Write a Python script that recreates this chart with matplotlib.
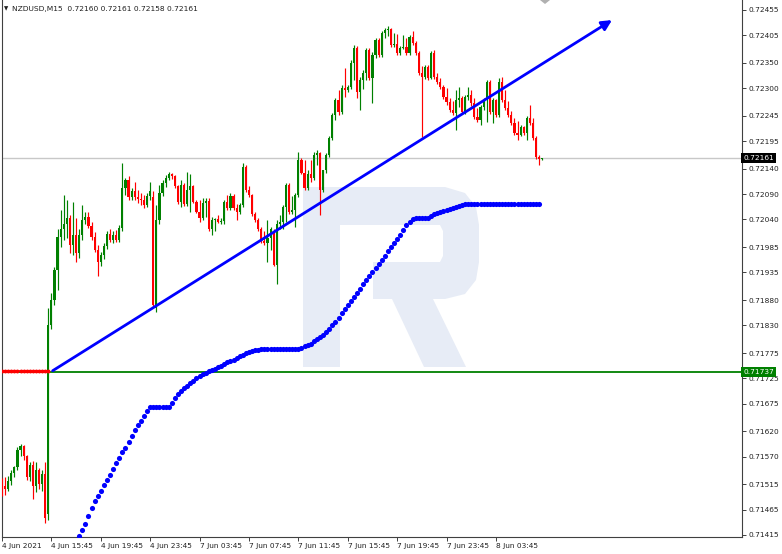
import matplotlib
matplotlib.use('Agg')
import matplotlib.pyplot as plt
from matplotlib.patches import Polygon, Rectangle
from matplotlib.transforms import Affine2D, blended_transform_factory
import numpy as np

# ---------------- data (prices in 1e-5 units) ----------------
opens = [71521, 71511, 71505, 71521, 71538, 71550, 71582, 71590, 71572, 71529, 71554, 71511, 71544, 71515, 71535, 71457,
         71830, 71881, 71940, 72006, 72020, 72030, 72043, 71990, 72010, 71974, 72010, 72039, 72045, 72026, 72006, 71980,
         71956, 71970, 71988, 72012, 72000, 72010, 72000, 72022, 72103, 72119, 72085, 72097, 72085, 72081, 72079, 72069,
         72087, 72085, 71865, 72039, 72093, 72113, 72123, 72129, 72125, 72107, 72075, 72109, 72071, 72099, 72107, 72075,
         72055, 72043, 72073, 72077, 72020, 72039, 72041, 72035, 72037, 72075, 72063, 72087, 72063, 72055, 72069, 72144,
         72099, 72089, 72051, 72039, 72020, 71998, 71994, 72004, 72016, 71950, 72030, 72035, 72065, 72109, 72055, 72059,
         72089, 72158, 72132, 72103, 72129, 72123, 72168, 72172, 72099, 72138, 72168, 72202, 72247, 72277, 72253, 72301,
         72297, 72303, 72350, 72380, 72293, 72317, 72330, 72376, 72321, 72366, 72396, 72366, 72410, 72416, 72418, 72386,
         72388, 72370, 72380, 72382, 72370, 72402, 72390, 72370, 72330, 72323, 72342, 72321, 72370, 72323, 72313, 72303,
         72283, 72273, 72257, 72251, 72277, 72281, 72253, 72283, 72287, 72271, 72243, 72237, 72263, 72277, 72313, 72253,
         72277, 72247, 72313, 72277, 72261, 72247, 72231, 72212, 72208, 72224, 72212, 72241, 72231, 72202, 72164, 72160]
highs = [71527, 71529, 71531, 71544, 71552, 71588, 71594, 71592, 71574, 71560, 71562, 71560, 71548, 71544, 71560, 71865,
         71895, 71946, 72020, 72059, 72089, 72079, 72049, 72075, 72043, 72020, 72069, 72055, 72055, 72035, 72014, 71990,
         71976, 71994, 72016, 72020, 72016, 72018, 72028, 72152, 72123, 72125, 72103, 72115, 72099, 72093, 72089, 72093,
         72115, 72097, 72069, 72109, 72119, 72127, 72134, 72132, 72127, 72109, 72119, 72113, 72134, 72129, 72109, 72079,
         72079, 72083, 72083, 72083, 72045, 72043, 72049, 72043, 72079, 72089, 72093, 72091, 72071, 72073, 72152, 72148,
         72107, 72091, 72055, 72043, 72024, 72016, 72039, 72024, 72020, 72039, 72049, 72069, 72113, 72113, 72087, 72093,
         72174, 72162, 72158, 72138, 72158, 72174, 72178, 72174, 72138, 72172, 72206, 72251, 72281, 72297, 72307, 72340,
         72307, 72356, 72386, 72384, 72323, 72336, 72380, 72380, 72372, 72400, 72400, 72414, 72420, 72424, 72420, 72410,
         72408, 72384, 72406, 72400, 72406, 72414, 72394, 72374, 72344, 72346, 72346, 72374, 72376, 72330, 72321, 72307,
         72301, 72281, 72275, 72297, 72303, 72285, 72287, 72303, 72297, 72281, 72261, 72267, 72281, 72317, 72317, 72281,
         72279, 72321, 72323, 72297, 72275, 72255, 72241, 72235, 72227, 72226, 72245, 72267, 72241, 72206, 72168, 72161]
lows = [71491, 71493, 71501, 71513, 71529, 71544, 71572, 71564, 71523, 71521, 71485, 71499, 71505, 71501, 71439, 71445,
        71822, 71871, 71901, 71986, 72000, 72004, 71974, 71970, 71956, 71964, 72000, 72031, 72022, 72000, 71976, 71927,
        71948, 71962, 71982, 71996, 71994, 71996, 71996, 72016, 72089, 72079, 72079, 72079, 72073, 72069, 72063, 72065,
        72079, 71867, 71857, 72030, 72087, 72105, 72119, 72121, 72103, 72071, 72065, 72067, 72067, 72055, 72073, 72053,
        72035, 72039, 72045, 72016, 72010, 72016, 72033, 72031, 72030, 72059, 72059, 72059, 72039, 72051, 72065, 72095,
        72085, 72047, 72035, 72016, 71994, 71990, 71956, 71980, 71948, 71911, 72020, 72020, 72035, 72051, 72051, 72025,
        72085, 72129, 72099, 72099, 72115, 72119, 72148, 72049, 72095, 72132, 72164, 72198, 72237, 72247, 72249, 72283,
        72293, 72299, 72317, 72281, 72257, 72299, 72317, 72317, 72271, 72360, 72362, 72362, 72400, 72404, 72382, 72382,
        72366, 72366, 72378, 72366, 72366, 72386, 72366, 72326, 72204, 72319, 72317, 72319, 72319, 72309, 72299, 72279,
        72267, 72253, 72247, 72218, 72263, 72249, 72249, 72277, 72265, 72239, 72233, 72227, 72257, 72233, 72249, 72231,
        72243, 72243, 72273, 72257, 72243, 72227, 72208, 72198, 72206, 72208, 72198, 72227, 72198, 72160, 72148, 72158]
closes = [71511, 71505, 71521, 71538, 71550, 71582, 71590, 71572, 71529, 71554, 71511, 71544, 71515, 71535, 71449, 71830,
          71881, 71940, 72006, 72020, 72030, 72043, 71990, 72010, 71974, 72010, 72039, 72045, 72026, 72006, 71980, 71956,
          71970, 71988, 72012, 72000, 72010, 72000, 72022, 72103, 72119, 72085, 72097, 72085, 72081, 72079, 72069, 72087,
          72097, 71871, 72039, 72093, 72113, 72123, 72129, 72125, 72107, 72075, 72109, 72071, 72099, 72107, 72075, 72055,
          72043, 72073, 72077, 72020, 72039, 72041, 72035, 72037, 72075, 72063, 72087, 72063, 72055, 72069, 72144, 72099,
          72089, 72051, 72039, 72020, 71998, 71994, 72004, 72020, 71950, 72030, 72035, 72065, 72109, 72055, 72059, 72089,
          72158, 72132, 72103, 72129, 72123, 72168, 72172, 72099, 72138, 72168, 72202, 72247, 72277, 72253, 72301, 72297,
          72303, 72350, 72380, 72293, 72317, 72330, 72376, 72321, 72366, 72396, 72366, 72410, 72416, 72418, 72386, 72388,
          72370, 72380, 72382, 72370, 72402, 72390, 72370, 72330, 72323, 72342, 72321, 72370, 72323, 72313, 72303, 72283,
          72273, 72257, 72251, 72277, 72281, 72253, 72283, 72287, 72271, 72243, 72237, 72263, 72277, 72313, 72253, 72277,
          72247, 72313, 72277, 72261, 72247, 72231, 72212, 72208, 72224, 72212, 72241, 72231, 72202, 72164, 72160, 72161]

# blue dotted indicator, starting at bar index 22
dots_start = 22
dots = [71370, 71384, 71398, 71412, 71424, 71437, 71453, 71467, 71481, 71491, 71501, 71513, 71523, 71533, 71546, 71558,
        71568, 71578, 71586, 71598, 71610, 71622, 71632, 71641, 71651, 71661, 71669, 71669, 71669, 71669, 71669, 71669,
        71669, 71677, 71685, 71693, 71699, 71705, 71709, 71715, 71719, 71725, 71729, 71733, 71736, 71740, 71742, 71744,
        71748, 71750, 71754, 71758, 71760, 71762, 71766, 71770, 71772, 71776, 71778, 71780, 71782, 71782, 71784, 71784,
        71784, 71784, 71784, 71784, 71784, 71784, 71784, 71784, 71784, 71784, 71784, 71786, 71790, 71792, 71794, 71798,
        71802, 71806, 71810, 71816, 71822, 71830, 71837, 71845, 71855, 71863, 71871, 71879, 71887, 71895, 71903, 71911,
        71919, 71927, 71936, 71944, 71952, 71960, 71968, 71978, 71986, 71994, 72002, 72010, 72018, 72028, 72035, 72041,
        72043, 72043, 72043, 72043, 72043, 72047, 72051, 72053, 72055, 72057, 72059, 72061, 72063, 72065, 72067, 72069,
        72071, 72071, 72071, 72071, 72071, 72071, 72071, 72071, 72071, 72071, 72071, 72071, 72071, 72071, 72071, 72071,
        72071, 72071, 72071, 72071, 72071, 72071, 72071, 72071, 72071]
red_dots = [71739] * 16           # bars 0..15

trend_bars = [16.4, 197.6]
trend_prices = [0.71740, 0.72435]
level_line = 0.71737
bid_price = 0.72161

x_tick_bars = [0, 16, 32, 48, 64, 80, 96, 112, 128, 144, 160]
x_tick_labels = ["4 Jun 2021", "4 Jun 15:45", "4 Jun 19:45", "4 Jun 23:45", "7 Jun 03:45", "7 Jun 07:45",
                 "7 Jun 11:45", "7 Jun 15:45", "7 Jun 19:45", "7 Jun 23:45", "8 Jun 03:45"]
y_ticks = [0.72455, 0.72405, 0.72350, 0.72300, 0.72245, 0.72195, 0.72140, 0.72090, 0.72040, 0.71985, 0.71935,
           0.71880, 0.71830, 0.71775, 0.71725, 0.71675, 0.71620, 0.71570, 0.71515, 0.71465, 0.71415]
header = "NZDUSD,M15  0.72160 0.72161 0.72158 0.72161"

# ---------------- figure ----------------
W, H = 782, 554
fig = plt.figure(figsize=(W / 100, H / 100), dpi=100)
fig.patch.set_facecolor('white')
ax = fig.add_axes([2 / W, 17 / H, 740 / W, 537 / H])
ax.set_xlim(0.23, 239.7)
ax.set_ylim(0.714105, 0.724748)

# pixel transform (image coords, y down)
pix = Affine2D().scale(1, -1).translate(0, H) + fig.dpi_scale_trans.inverted() + fig.dpi_scale_trans

# watermark "R"
wm = '#e7ecf6'
wm_polys = [
    [(303, 187), (445, 187), (465, 193), (476, 207), (479, 225), (479, 262), (476, 280), (465, 294), (445, 299),
     (373, 299), (373, 262), (440, 262), (443, 256), (443, 231), (440, 225), (340, 225), (340, 367), (303, 367)],
    [(392, 299), (433, 299), (466, 367), (424, 367)],
]
for p in wm_polys:
    ax.add_patch(Polygon(p, closed=True, facecolor=wm, edgecolor='none', transform=pix, zorder=0.5, clip_on=False))

O = np.array(opens) / 1e5
Hh = np.array(highs) / 1e5
L = np.array(lows) / 1e5
C = np.array(closes) / 1e5
x = np.arange(len(O))
col = np.where(C > O, '#008000', np.where(C < O, '#ff0000', '#202020'))

ax.vlines(x, L, Hh, colors=col, linewidth=0.85, zorder=3)
bottoms = np.minimum(O, C)
heights = np.maximum(np.abs(C - O), 0.000012)
ax.bar(x, heights, bottom=bottoms, width=0.7, color=col, linewidth=0, zorder=3)

# horizontal lines
ax.axhline(bid_price, color='#c8c8c8', lw=1.0, zorder=1)
ax.axhline(level_line, color='#008000', lw=1.3, zorder=2)

# red dots (indicator before jump)
rx = np.arange(len(red_dots))
ax.plot(rx, np.array(red_dots) / 1e5, 'o', color='#ff0000', ms=2.8, mew=0, zorder=4)
ax.plot(rx, np.array(red_dots) / 1e5, '-', color='#ff0000', lw=1.3, zorder=4)

# blue dots
bx = np.arange(dots_start, dots_start + len(dots))
ax.plot(bx, np.array(dots) / 1e5, 'o', color='#0000ff', ms=3.7, mew=0, zorder=5)

# trend line with arrow
ax.annotate('', xy=(trend_bars[1], trend_prices[1]), xytext=(trend_bars[0], trend_prices[0]),
            arrowprops=dict(arrowstyle='-|>,head_length=0.6,head_width=0.3', color='#0000ff', lw=2.0,
                            shrinkA=0, shrinkB=0), zorder=6, annotation_clip=False)

# axes styling
ax.spines['top'].set_visible(False)
for s in ['left', 'bottom', 'right']:
    ax.spines[s].set_color('#404040')
    ax.spines[s].set_linewidth(0.8)
ax.yaxis.tick_right()
ax.set_yticks(y_ticks)
ax.set_yticklabels([f"{v:.5f}" for v in y_ticks])
ax.set_xticks(x_tick_bars)
ax.set_xticklabels(x_tick_labels)
ax.tick_params(axis='both', direction='out', length=3, width=0.7, color='#404040',
               labelsize=5.3, labelcolor='#202020')
ax.tick_params(axis='y', pad=2)
ax.tick_params(axis='x', pad=1.5)
for t in ax.get_xticklabels():
    t.set_ha('left')

# price label boxes on the right
tr = blended_transform_factory(ax.transAxes, ax.transData)
for price, fc in [(bid_price, '#000000'), (level_line, '#008000')]:
    ax.text(1.0015, price, f"{price:.5f}", transform=tr, fontsize=5.3, color='white', va='center', ha='left',
            bbox=dict(boxstyle='square,pad=0.25', fc=fc, ec='none'), zorder=10, clip_on=False)

# header
fig.text(4 / W, 1 - 8.5 / H, "\u25BC", fontsize=4, va='center', ha='left', color='#202020')
fig.text(12 / W, 1 - 8.5 / H, header, fontsize=5.4, va='center', ha='left', color='#202020')

# small shift marker at top
ax.add_patch(Polygon([(540, 0), (550, 0), (545, 4)], closed=True, facecolor='#b0b0b0', edgecolor='none',
                     transform=pix, zorder=7, clip_on=False))

fig.savefig('out.png', dpi=100)
